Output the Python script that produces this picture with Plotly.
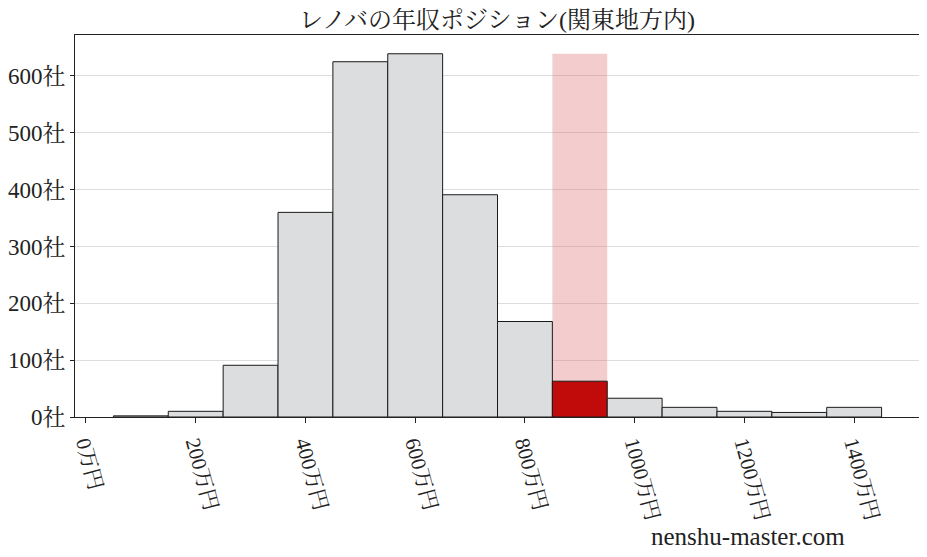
import plotly.graph_objects as go

# 年収帯 (万円, bin centre) and 社数
income_bins = [100, 200, 300, 400, 500, 600, 700, 800, 900, 1000, 1100, 1200, 1300, 1400]
company_counts = [2, 10, 91, 360, 625, 639, 391, 168, 63, 33, 17, 10, 8, 17]
highlight_bin = 900

x_ticks = [0, 200, 400, 600, 800, 1000, 1200, 1400]
x_tick_text = [f"{v}万円" for v in x_ticks]
y_ticks = [0, 100, 200, 300, 400, 500, 600]
y_tick_text = [f"{v}社" for v in y_ticks]

FONT = "Liberation Serif, Noto Serif CJK JP, Noto Sans CJK JP, serif"

colors = ["#c10b0b" if b == highlight_bin else "#dcdddf" for b in income_bins]

fig = go.Figure()

# pink band behind the highlighted bin
fig.add_trace(go.Bar(
    x=[highlight_bin],
    y=[max(company_counts)],
    width=100,
    marker=dict(color="rgba(220,110,115,0.35)", line=dict(width=0)),
    hoverinfo="skip",
    showlegend=False,
))

fig.add_trace(go.Bar(
    x=income_bins,
    y=company_counts,
    width=100,
    marker=dict(color=colors, line=dict(color="#1a1a1a", width=1)),
    showlegend=False,
))

# page body adds ~8px, so the figure is a bit smaller than the window
fig.update_layout(
    width=919,
    height=549,
    barmode="overlay",
    margin=dict(l=67, r=7, t=27, b=140),
    paper_bgcolor="white",
    plot_bgcolor="white",
    font=dict(family=FONT, size=20, color="#222222"),
    title=dict(
        text="レノバの年収ポジション(関東地方内)",
        x=0.532, xanchor="center", y=0.978, yanchor="middle",
        font=dict(size=24, family=FONT, color="#222222"),
    ),
    xaxis=dict(
        range=[-20, 1520],
        tickvals=x_ticks,
        ticktext=x_tick_text,
        tickangle=75,
        ticks="outside",
        ticklen=5,
        tickcolor="#222222",
        showgrid=False,
        zeroline=False,
        showline=True,
        linecolor="#222222",
        linewidth=1,
        mirror=True,
        automargin=False,
        tickfont=dict(size=21),
    ),
    yaxis=dict(
        range=[0, 672],
        tickvals=y_ticks,
        ticktext=y_tick_text,
        ticks="outside",
        ticklen=4,
        tickcolor="#222222",
        showgrid=True,
        gridcolor="#dddddd",
        gridwidth=1,
        zeroline=False,
        showline=True,
        linecolor="#222222",
        linewidth=1,
        mirror=True,
        automargin=False,
        tickfont=dict(size=23),
    ),
    annotations=[dict(
        text="nenshu-master.com",
        xref="paper", yref="paper",
        x=0.796, y=-0.314, xanchor="center", yanchor="middle",
        showarrow=False,
        font=dict(size=25, family=FONT, color="#222222"),
    )],
)

fig.write_html("out.html")
